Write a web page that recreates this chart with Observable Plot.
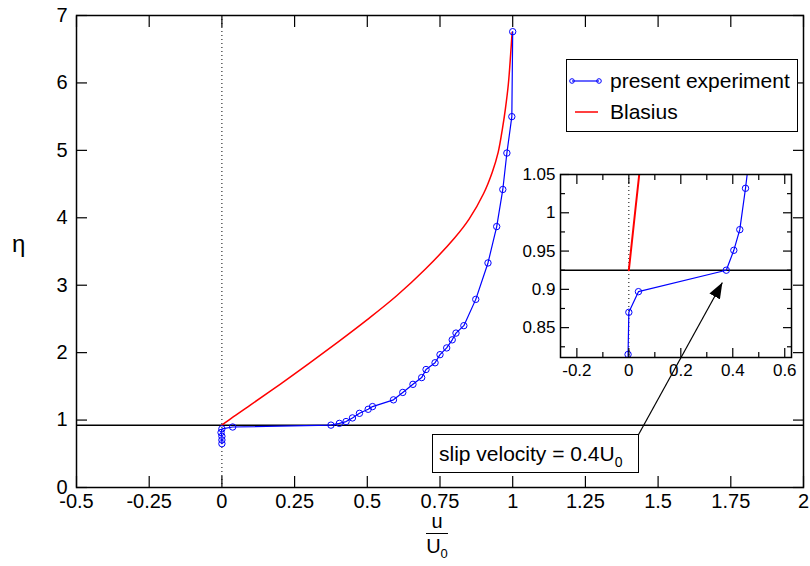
<!DOCTYPE html>
<html><head><meta charset="utf-8">
<script src="https://cdn.jsdelivr.net/npm/d3@7"></script>
<script src="https://cdn.jsdelivr.net/npm/@observablehq/plot@0.6"></script>
<style>
body{margin:0;background:#fff;font-family:"Liberation Sans",Arial,sans-serif;}
#wrap{position:relative;width:810px;height:566px;overflow:hidden;background:#fff;}
#main{position:absolute;left:0;top:0;}
#inset{position:absolute;left:500px;top:160px;}
.box{position:absolute;border:1.5px solid #000;background:#fff;box-sizing:border-box;color:#000;}
#legend{left:566px;top:59px;width:232px;height:73px;}
.lrow{position:absolute;left:0;height:26px;display:flex;align-items:center;font-size:21px;white-space:nowrap;}
#note{left:432px;top:434px;width:207px;height:39px;font-size:21px;line-height:37px;padding-left:6px;white-space:nowrap;}
#note sub{font-size:14px;vertical-align:-6px;}
#ylab{position:absolute;left:12px;top:230px;font-size:24px;}
#xlab{position:absolute;left:417px;top:510px;width:40px;text-align:center;font-size:20px;line-height:22px;}
#xlab .bar{width:22px;margin:1px auto 1px auto;border-top:1.5px solid #000;}
#xlab sub{font-size:13px;vertical-align:-5px;}
</style></head><body>
<div id="wrap">
  <div id="main"></div>
  <div id="inset"></div>
  <div id="legend" class="box"></div>
  <div id="note" class="box"></div>
  <div id="ylab">η</div>
  <div id="xlab"><div>u</div><div class="bar"></div><div>U<sub>0</sub></div></div>
</div>
<script>
// ---- data ----
const expU   = [0, 0, 0, -0.003, 0, 0.037, 0.375, 0.404, 0.427, 0.449, 0.473, 0.503, 0.518, 0.59, 0.622, 0.657, 0.687, 0.702, 0.733, 0.75, 0.773, 0.792, 0.805, 0.832, 0.873, 0.915, 0.945, 0.966, 0.98, 0.997, 1.0];
const expEta = [0.65, 0.705, 0.76, 0.815, 0.87, 0.897, 0.925, 0.951, 0.978, 1.032, 1.10, 1.16, 1.20, 1.30, 1.41, 1.53, 1.63, 1.75, 1.85, 1.97, 2.07, 2.19, 2.29, 2.40, 2.79, 3.33, 3.87, 4.42, 4.96, 5.50, 6.76];
const blasiusU   = [0, 0.04, 0.1, 0.2, 0.3, 0.4, 0.5, 0.6, 0.7, 0.8, 0.85, 0.9, 0.93, 0.95, 0.965, 0.975, 0.985, 0.993, 0.998];
const blasiusEta = [0.925, 1.05, 1.23, 1.53, 1.84, 2.16, 2.49, 2.84, 3.24, 3.70, 3.98, 4.36, 4.68, 4.97, 5.33, 5.62, 5.98, 6.43, 6.75];
const slipEta = [0.925];
const wallU = [0];
const xTicksMain = [-0.5, -0.25, 0, 0.25, 0.5, 0.75, 1, 1.25, 1.5, 1.75, 2];
const yTicksMain = [0, 1, 2, 3, 4, 5, 6, 7];
const xTicksInset = [-0.2, 0, 0.2, 0.4, 0.6];
const xMinorInset = [-0.1, 0.1, 0.3, 0.5];
const yTicksInset = [0.85, 0.9, 0.95, 1, 1.05];
const yMinorInset = [0.825, 0.875, 0.925, 0.975, 1.025];
const arrowU = [0.037, 0.36];     // tail, head (inset coordinates)
const arrowEta = [0.71, 0.909];
const legendLabels = ["present experiment", "Blasius"];
const noteText = ["slip velocity = 0.4U", "0"];

const BLUE = "#0000ff", RED = "#ff0000";
const exp = expU.map((u, i) => ({u, eta: expEta[i]}));
const blasius = blasiusU.map((u, i) => ({u, eta: blasiusEta[i]}));
const arrow = [{x1: arrowU[0], y1: arrowEta[0], x2: arrowU[1], y2: arrowEta[1]}];
const FONT = "'Liberation Sans', Arial, sans-serif";
const blank = () => "";

function ticks4(xt, yt, len, sw) {
  return [
    Plot.axisX(xt, {anchor: "bottom", tickSize: len, dy: -len, tickFormat: blank, label: null, strokeWidth: sw}),
    Plot.axisX(xt, {anchor: "top", tickSize: len, dy: len, tickFormat: blank, label: null, strokeWidth: sw}),
    Plot.axisY(yt, {anchor: "left", tickSize: len, dx: len, tickFormat: blank, label: null, strokeWidth: sw}),
    Plot.axisY(yt, {anchor: "right", tickSize: len, dx: -len, tickFormat: blank, label: null, strokeWidth: sw})
  ];
}

const main = Plot.plot({
  width: 810, height: 566,
  marginLeft: 76, marginRight: 7, marginTop: 15, marginBottom: 79,
  x: {domain: [-0.5, 2], label: null},
  y: {domain: [0, 7], label: null},
  style: {fontFamily: FONT, fontSize: "20px", background: "white"},
  marks: [
    Plot.ruleX(wallU, {stroke: "black", strokeDasharray: "1,3", strokeWidth: 1}),
    Plot.ruleY(slipEta, {stroke: "black", strokeWidth: 1.5}),
    Plot.line(blasius, {x: "u", y: "eta", stroke: RED, strokeWidth: 1.5, curve: "catmull-rom"}),
    Plot.line(exp, {x: "u", y: "eta", stroke: BLUE, strokeWidth: 1.2}),
    Plot.dot(exp, {x: "u", y: "eta", r: 3.2, stroke: BLUE, fill: "none", strokeWidth: 1}),
    ...ticks4(xTicksMain, yTicksMain, 11, 1.2),
    Plot.axisX(xTicksMain, {anchor: "bottom", tickSize: 0, tickPadding: 6, tickFormat: d => String(d), label: null, fontSize: 20}),
    Plot.axisY(yTicksMain, {anchor: "left", tickSize: 0, tickPadding: 9, tickFormat: d => String(d), label: null, fontSize: 20}),
    Plot.frame({stroke: "black", strokeWidth: 1.5})
  ]
});
document.getElementById("main").appendChild(main);

const inset = Plot.plot({
  width: 300, height: 232,
  marginLeft: 60, marginRight: 9, marginTop: 14, marginBottom: 35,
  x: {domain: [-0.263, 0.626], label: null},
  y: {domain: [0.811, 1.05], label: null},
  style: {fontFamily: FONT, fontSize: "17px", background: "transparent", overflow: "visible"},
  marks: [
    Plot.frame({fill: "white", stroke: "none"}),
    Plot.ruleX(wallU, {stroke: "black", strokeDasharray: "1,3", strokeWidth: 1}),
    Plot.ruleY(slipEta, {stroke: "black", strokeWidth: 1.5}),
    Plot.line(blasius, {x: "u", y: "eta", stroke: RED, strokeWidth: 2, curve: "catmull-rom", clip: true}),
    Plot.line(exp, {x: "u", y: "eta", stroke: BLUE, strokeWidth: 1.2, clip: true}),
    Plot.dot(exp, {x: "u", y: "eta", r: 3.2, stroke: BLUE, fill: "none", strokeWidth: 1, clip: true}),
    ...ticks4(xTicksInset, yTicksInset, 9, 1.2),
    ...ticks4(xMinorInset, yMinorInset, 5, 1.2),
    Plot.axisX(xTicksInset, {anchor: "bottom", tickSize: 0, tickPadding: 6, tickFormat: d => String(d), label: null, fontSize: 17}),
    Plot.axisY(yTicksInset, {anchor: "left", tickSize: 0, tickPadding: 5, tickFormat: d => String(d), label: null, fontSize: 17}),
    Plot.frame({stroke: "black", strokeWidth: 1.5}),
    Plot.link(arrow, {x1: "x1", y1: "y1", x2: "x2", y2: "y2", stroke: "black", strokeWidth: 1.2})
  ]
});
document.getElementById("inset").appendChild(inset);

// filled arrowhead
const isv = d3.select(inset);
isv.append("defs").append("marker")
  .attr("id", "ahead").attr("viewBox", "0 0 16 12").attr("refX", 16).attr("refY", 6)
  .attr("markerWidth", 16).attr("markerHeight", 12).attr("markerUnits", "userSpaceOnUse")
  .attr("orient", "auto")
  .append("path").attr("d", "M0,0L16,6L0,12Z").attr("fill", "black");
isv.selectAll('g[aria-label="link"] path').attr("marker-end", "url(#ahead)");

// legend
const legend = d3.select("#legend");
const sw = [
  {color: BLUE, dots: true, x1: 5, x2: 32},
  {color: RED, dots: false, x1: 8, x2: 31}
];
legendLabels.forEach((lab, i) => {
  const row = legend.append("div").attr("class", "lrow").style("top", (i === 0 ? 8 : 39) + "px");
  const s = row.append("svg").attr("width", 36).attr("height", 12);
  s.append("line").attr("x1", sw[i].x1).attr("x2", sw[i].x2).attr("y1", 6).attr("y2", 6)
    .attr("stroke", sw[i].color).attr("stroke-width", sw[i].dots ? 1.2 : 1.5);
  if (sw[i].dots) {
    [sw[i].x1, sw[i].x2].forEach(cx => s.append("circle").attr("cx", cx).attr("cy", 6).attr("r", 2.3)
      .attr("fill", "none").attr("stroke", sw[i].color).attr("stroke-width", 1));
  }
  row.append("span").text(lab).style("margin-left", "7px");
});

// annotation text
const note = d3.select("#note");
note.append("span").text(noteText[0]);
note.append("sub").text(noteText[1]);
</script>
</body></html>
